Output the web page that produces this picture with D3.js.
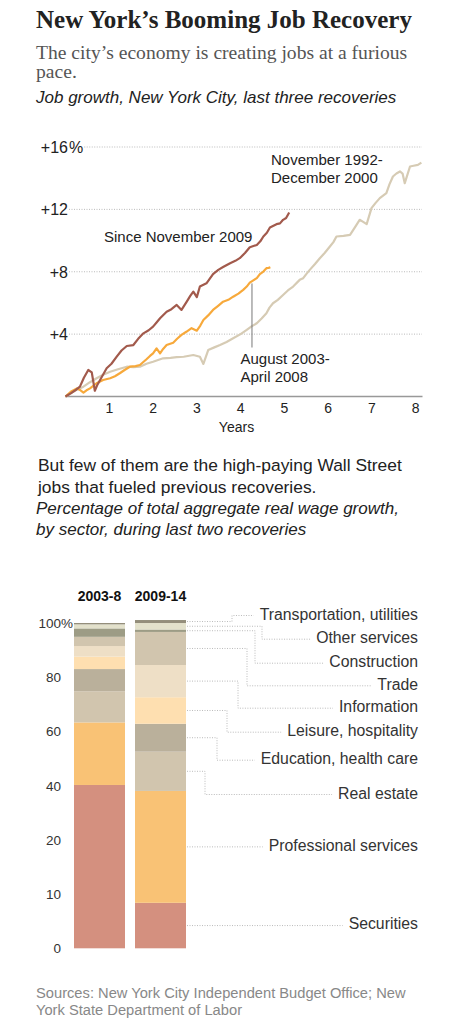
<!DOCTYPE html>
<html><head><meta charset="utf-8">
<script src="https://cdn.jsdelivr.net/npm/d3@7"></script>
<style>
body{margin:0;background:#fff;}
svg{display:block;}
text{font-family:"Liberation Sans",Arial,sans-serif;}
</style></head><body>
<svg id="c" width="452" height="1024"></svg>
<script>
// ---------- DATA: job growth (years since start of recovery, % growth) ----------
const since2009 = [[0,0],[0.12,0.2],[0.25,0.45],[0.33,0.63],[0.42,1.2],[0.52,1.7],[0.6,1.55],[0.67,0.37],[0.72,0.7],[0.79,1.06],[0.94,1.81],[1.05,2.1],[1.17,2.56],[1.28,2.95],[1.40,3.24],[1.55,3.3],[1.66,3.7],[1.78,4.05],[1.9,4.25],[2.0,4.48],[2.08,4.75],[2.16,5.02],[2.31,5.44],[2.42,5.6],[2.54,5.87],[2.65,5.55],[2.77,6.08],[2.85,6.45],[2.92,6.73],[3.0,6.37],[3.07,7.05],[3.22,7.26],[3.37,7.85],[3.49,8.12],[3.6,8.3],[3.76,8.55],[3.88,8.7],[3.98,8.87],[4.1,9.2],[4.21,9.57],[4.37,9.72],[4.45,9.95],[4.52,10.26],[4.6,10.5],[4.67,10.84],[4.82,11.05],[4.9,11.1],[4.97,11.33],[5.04,11.45],[5.11,11.8]];
const since2003 = [[0,0],[0.12,0.3],[0.26,0.52],[0.33,0.42],[0.41,0.25],[0.48,0.4],[0.56,0.52],[0.71,0.85],[0.86,1.06],[1.02,1.17],[1.13,1.3],[1.24,1.49],[1.35,1.7],[1.47,1.91],[1.6,1.95],[1.7,2.02],[1.85,2.39],[1.93,2.6],[2.0,2.77],[2.08,3.09],[2.16,2.77],[2.23,3.05],[2.31,3.3],[2.46,3.45],[2.55,3.7],[2.65,3.95],[2.76,4.15],[2.88,4.38],[3.0,4.22],[3.08,4.55],[3.15,4.91],[3.26,5.2],[3.37,5.55],[3.48,5.8],[3.6,6.08],[3.72,6.2],[3.83,6.4],[3.95,6.6],[4.06,6.84],[4.14,7.05],[4.21,7.3],[4.29,7.45],[4.37,7.59],[4.44,7.85],[4.52,8.01],[4.59,8.23],[4.64,8.25],[4.68,8.29]];
const since1992 = [[0,0],[0.2,0.35],[0.41,0.63],[0.55,0.9],[0.71,1.17],[0.86,1.4],[1.02,1.59],[1.2,1.75],[1.4,1.91],[1.55,1.88],[1.7,1.91],[1.85,2.1],[2.0,2.23],[2.23,2.45],[2.4,2.48],[2.54,2.52],[2.7,2.55],[2.92,2.66],[3.07,2.55],[3.15,2.09],[3.26,2.98],[3.4,3.15],[3.53,3.3],[3.68,3.5],[3.83,3.73],[4.0,4.0],[4.14,4.27],[4.25,4.5],[4.37,4.7],[4.48,5.0],[4.59,5.34],[4.66,5.7],[4.74,5.98],[4.85,6.2],[4.97,6.51],[5.08,6.8],[5.2,7.05],[5.35,7.48],[5.43,7.59],[5.5,7.85],[5.58,8.12],[5.7,8.5],[5.81,8.87],[5.92,9.2],[6.04,9.62],[6.12,9.9],[6.19,10.26],[6.35,10.3],[6.5,10.37],[6.6,10.8],[6.72,11.33],[6.8,11.2],[6.88,11.05],[6.99,12.08],[7.08,12.4],[7.18,12.72],[7.33,13.04],[7.4,13.6],[7.48,14.11],[7.56,14.3],[7.64,14.43],[7.7,14.3],[7.75,13.68],[7.87,14.75],[7.95,14.8],[8.05,14.85],[8.13,15.0]];
const lineYTicks = [4, 8, 12, 16];
const lineXTicks = [1, 2, 3, 4, 5, 6, 7, 8];

// ---------- DATA: share of wage growth by sector ----------
const periods = ["2003-8", "2009-14"];
const sectors = ["Securities","Professional services","Real estate","Education, health care","Leisure, hospitality","Information","Trade","Construction","Other services","Transportation, utilities"];
const share2003 = [40.3, 23.1, 11.5, 8.2, 4.6, 3.9, 3.4, 3.1, 1.5, 0.5];
const share2009 = [8.4, 29.7, 14.5, 10.3, 9.8, 11.9, 12.2, 0.9, 2.4, 1.1];
const barTicks = [0, 10, 20, 40, 60, 80, 100];

// ---------- STYLE / LAYOUT ----------
const sectorColors = ["#d4907f","#f9c275","#d1c5ae","#bab09b","#fedfb0","#eedfc6","#d1c5ae","#9d9c85","#e3e1cb","#948e7b"];
const leaderElbowX = [null, null, 205, 217, 227, 238, 247, 255, 262, 232];
const labelCenterY = [null, null, 793, 758.7, 730.7, 706.7, 684.3, 661.7, 637.7, 614];

const svg = d3.select("#c");

// ---------- Header text ----------
svg.append("text").attr("x", 36).attr("y", 28)
  .style("font-family", "'Liberation Serif',serif").style("font-weight", "bold")
  .style("font-size", "25px").attr("fill", "#222")
  .text("New York\u2019s Booming Job Recovery");
svg.append("text").attr("x", 36).attr("y", 59)
  .style("font-family", "'Liberation Serif',serif").style("font-size", "19.6px").attr("fill", "#555")
  .text("The city\u2019s economy is creating jobs at a furious");
svg.append("text").attr("x", 36).attr("y", 78)
  .style("font-family", "'Liberation Serif',serif").style("font-size", "19.6px").attr("fill", "#555")
  .text("pace.");
svg.append("text").attr("x", 36).attr("y", 103)
  .style("font-style", "italic").style("font-size", "17px").attr("fill", "#222")
  .text("Job growth, New York City, last three recoveries");

// ---------- Line chart ----------
const x = d3.scaleLinear().domain([0, 8]).range([65.5, 415.7]);
const y = d3.scaleLinear().domain([0, 16]).range([396.5, 147]);

const gl = svg.append("g");
lineYTicks.forEach(t => {
  gl.append("text").attr("x", 68).attr("y", y(t)).attr("dy", "0.36em")
    .attr("text-anchor", "end").style("font-size", "16px").attr("fill", "#222")
    .text("+" + t);
  let endX = 68;
  if (t === 16) {
    const pct = gl.append("text").attr("x", 69).attr("y", y(t)).attr("dy", "0.36em")
      .style("font-size", "16px").attr("fill", "#222").text("%");
    endX = 69 + pct.node().getComputedTextLength();
  }
  gl.append("line").attr("x1", endX + 1).attr("x2", 422).attr("y1", y(t)).attr("y2", y(t))
    .attr("stroke", "#aaa").attr("stroke-width", 0.8).attr("stroke-dasharray", "1,1.5");
});
gl.append("line").attr("x1", 65).attr("x2", 422.5).attr("y1", y(0)).attr("y2", y(0))
  .attr("stroke", "#999").attr("stroke-width", 1.5);
lineXTicks.forEach(t => {
  gl.append("text").attr("x", x(t)).attr("y", 413).attr("text-anchor", "middle")
    .style("font-size", "14px").attr("fill", "#222").text(t);
});
gl.append("text").attr("x", 236.5).attr("y", 431.5).attr("text-anchor", "middle")
  .style("font-size", "14px").attr("fill", "#222").text("Years");

const line = d3.line().x(d => x(d[0])).y(d => y(d[1]));
[[since1992, "#d6cbb4"], [since2003, "#f7a93b"], [since2009, "#a25a4c"]].forEach(([data, col]) => {
  gl.append("path").datum(data).attr("d", line).attr("fill", "none")
    .attr("stroke", col).attr("stroke-width", 2.2).attr("stroke-linejoin", "round");
});

// annotations
gl.append("line").attr("x1", x(4.26)).attr("x2", x(4.26)).attr("y1", y(7.25)).attr("y2", 347.5)
  .attr("stroke", "#777").attr("stroke-width", 1);
const ann = (txt, ax, ay) => gl.append("text").attr("x", ax).attr("y", ay).attr("dy", "0.36em")
  .style("font-size", "15px").attr("fill", "#222").text(txt);
ann("August 2003-", 240.5, 358.5);
ann("April 2008", 240.5, 376.5);
ann("Since November 2009", 104, 236.5);
ann("November 1992-", 271, 160);
ann("December 2000", 271, 177.5);

// ---------- Second section text ----------
svg.append("text").attr("x", 38).attr("y", 471).style("font-size", "17.4px").attr("fill", "#222")
  .text("But few of them are the high-paying Wall Street");
svg.append("text").attr("x", 38).attr("y", 492.5).style("font-size", "17.4px").attr("fill", "#222")
  .text("jobs that fueled previous recoveries.");
svg.append("text").attr("x", 36).attr("y", 514).style("font-style", "italic").style("font-size", "17px").attr("fill", "#222")
  .text("Percentage of total aggregate real wage growth,");
svg.append("text").attr("x", 36).attr("y", 534.5).style("font-style", "italic").style("font-size", "17px").attr("fill", "#222")
  .text("by sector, during last two recoveries");

// ---------- Stacked bars ----------
const bx = d3.scaleBand().domain(periods).range([74, 186]).paddingInner(10 / 61);
// the chart's value axis has evenly spaced ticks at 0,10,20,40,60,80,100
const by = d3.scaleLinear().domain(barTicks).range(barTicks.map((d, i) => 948.3 - i * 54.17));

const rows = sectors.map((s, i) => ({sector: s, "2003-8": share2003[i], "2009-14": share2009[i]}));
const seriesByPeriod = periods.map(p => {
  const stack = d3.stack().keys(sectors);
  const obj = {};
  rows.forEach(r => obj[r.sector] = r[p]);
  return {period: p, layers: stack([obj])};
});

const gb = svg.append("g");
seriesByPeriod.forEach(sp => {
  sp.layers.forEach((layer, i) => {
    const d = layer[0];
    gb.append("rect").attr("x", bx(sp.period)).attr("width", bx.bandwidth())
      .attr("y", by(d[1])).attr("height", by(d[0]) - by(d[1]))
      .attr("fill", sectorColors[i]);
  });
  gb.append("text").attr("x", bx(sp.period) + bx.bandwidth() / 2).attr("y", 601)
    .attr("text-anchor", "middle").style("font-size", "14px").style("font-weight", "bold")
    .attr("fill", "#111").text(sp.period);
});

barTicks.forEach(t => {
  gb.append("text").attr("x", 61).attr("y", by(t)).attr("dy", "0.36em").attr("text-anchor", "end")
    .style("font-size", "13.5px").attr("fill", "#333").text(t);
  if (t === 100) gb.append("text").attr("x", 61).attr("y", by(t)).attr("dy", "0.36em")
    .style("font-size", "13.5px").attr("fill", "#333").text("%");
});

// labels with leader lines from the 2009-14 bar
const last = seriesByPeriod[1].layers;
const barRight = bx("2009-14") + bx.bandwidth();
sectors.forEach((s, i) => {
  const d = last[i][0];
  const midY = (by(d[0]) + by(d[1])) / 2;
  const straight = leaderElbowX[i] === null;
  const textY = straight ? midY - 2 : labelCenterY[i];
  const lab = gb.append("text").attr("x", 418).attr("y", textY).attr("dy", "0.36em")
    .attr("text-anchor", "end").style("font-size", "15.8px").attr("fill", "#333").text(s);
  const left = 418 - lab.node().getComputedTextLength() - 6;
  const lineY = straight ? midY : textY + 1.5;
  const pts = straight ? [[barRight + 1, midY], [left, midY]]
    : [[barRight + 1, midY], [leaderElbowX[i], midY], [leaderElbowX[i], lineY], [left, lineY]];
  gb.append("path").attr("d", d3.line()(pts)).attr("fill", "none")
    .attr("stroke", "#aaa").attr("stroke-width", 0.8).attr("stroke-dasharray", "1,1.5");
});

// ---------- Source ----------
svg.append("text").attr("x", 36).attr("y", 997.5).style("font-size", "14.7px").attr("fill", "#888")
  .text("Sources: New York City Independent Budget Office; New");
svg.append("text").attr("x", 36).attr("y", 1015).style("font-size", "14.7px").attr("fill", "#888")
  .text("York State Department of Labor");
</script>
</body></html>
